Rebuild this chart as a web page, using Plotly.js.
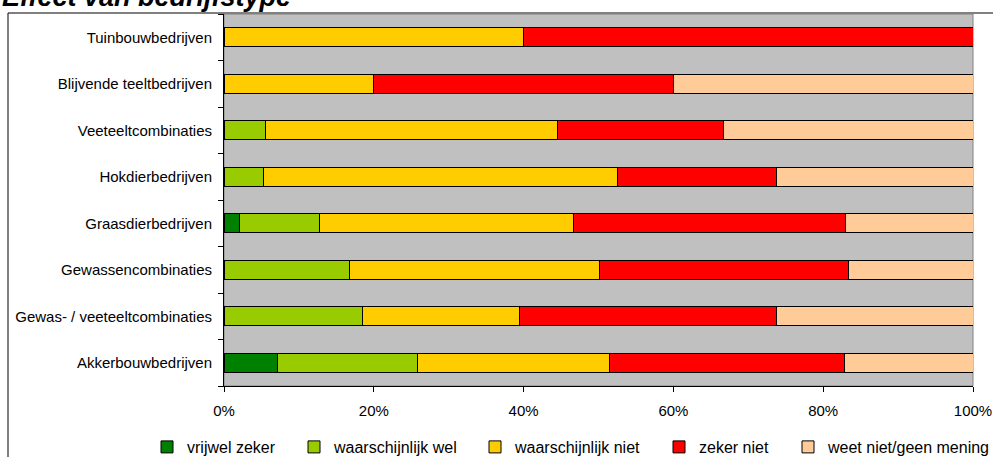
<!DOCTYPE html>
<html>
<head>
<meta charset="utf-8">
<script src="https://cdn.plot.ly/plotly-3.0.1.min.js"></script>
<style>html,body{margin:0;padding:0;background:#fff;}#chart{width:993px;height:457px;}</style>
</head>
<body>
<div id="chart"></div>
<script>
// Categories (bottom to top)
const categories = [
  "Akkerbouwbedrijven",
  "Gewas- / veeteeltcombinaties",
  "Gewassencombinaties",
  "Graasdierbedrijven",
  "Hokdierbedrijven",
  "Veeteeltcombinaties",
  "Blijvende teeltbedrijven",
  "Tuinbouwbedrijven"
];
// Series values (percent)
const vrijwelZeker       = [7.2, null, null, 2.1, null, null, null, null];
const waarschijnlijkWel  = [18.6, 18.5, 16.7, 10.7, 5.3, 5.6, null, null];
const waarschijnlijkNiet = [25.7, 21.0, 33.4, 33.9, 47.3, 38.9, 20.0, 40.0];
const zekerNiet          = [31.4, 34.3, 33.3, 36.3, 21.1, 22.2, 40.0, 60.0];
const weetNiet           = [17.1, 26.2, 16.6, 17.0, 26.3, 33.3, 40.0, null];

const seriesNames = ["vrijwel zeker", "waarschijnlijk wel", "waarschijnlijk niet", "zeker niet", "weet niet/geen mening"];
const seriesValues = [vrijwelZeker, waarschijnlijkWel, waarschijnlijkNiet, zekerNiet, weetNiet];
const seriesColors = ["#008000", "#99CC00", "#FFCC00", "#FF0000", "#FFCC99"];

// X tick labels
const xTickVals = [0, 20, 40, 60, 80, 100];
const xTickText = ["0%", "20%", "40%", "60%", "80%", "100%"];

const font = "Arial, 'Liberation Sans', sans-serif";

// pixel helpers for paper coordinates
const L = 224, R = 20, T = 14, B = 71, W = 993, H = 457;
const pw = W - L - R, ph = H - T - B;
const px = v => (v - L) / pw;
const py = v => (H - B - v) / ph;

// legend entry left positions (pixels), one legend box per series
const legendLeft = [147, 294, 475, 659, 788];
const legendIds = ["legend", "legend2", "legend3", "legend4", "legend5"];

const traces = seriesNames.map((name, i) => ({
  type: "bar",
  orientation: "h",
  name: name,
  legend: legendIds[i],
  y: categories,
  x: seriesValues[i],
  marker: {color: seriesColors[i], line: {color: "#000000", width: 1}},
  hoverinfo: "skip"
}));

const layout = {
  width: W, height: H,
  margin: {l: L, r: R, t: T, b: B, pad: 0, autoexpand: false},
  paper_bgcolor: "#FFFFFF",
  plot_bgcolor: "#C0C0C0",
  barmode: "stack",
  bargap: 0.585,
  showlegend: true,
  font: {family: font, size: 15, color: "#000000"},
  xaxis: {
    range: [0, 100],
    tickmode: "array",
    tickvals: xTickVals,
    ticktext: xTickText,
    showgrid: false,
    zeroline: false,
    showline: true,
    linecolor: "#000000",
    linewidth: 1,
    ticks: "outside",
    ticklen: 5,
    tickcolor: "#000000",
    ticklabelstandoff: 6,
    tickfont: {family: font, size: 15, color: "#000000"},
    fixedrange: true
  },
  yaxis: {
    type: "category",
    categoryorder: "array",
    categoryarray: categories,
    showgrid: false,
    zeroline: false,
    showline: true,
    linecolor: "#000000",
    linewidth: 1,
    ticks: "outside",
    ticklen: 5,
    tickcolor: "#000000",
    tickson: "boundaries",
    ticklabelstandoff: 8,
    tickfont: {family: font, size: 15, color: "#000000"},
    fixedrange: true
  },
  shapes: [
    // outer chart border
    {type: "rect", xref: "paper", yref: "paper", x0: px(8), x1: px(1005), y0: py(470), y1: py(13),
     line: {color: "#000000", width: 1}, fillcolor: "rgba(0,0,0,0)", layer: "below"},
    // plot area border
    {type: "rect", xref: "paper", yref: "paper", x0: 0, x1: 1, y0: 0, y1: 1,
     line: {color: "#808080", width: 1}, fillcolor: "rgba(0,0,0,0)", layer: "below"}
  ],
  annotations: [
    {text: "<b><i>Effect van bedrijfstype</i></b>", xref: "paper", yref: "paper",
     x: px(1), xanchor: "left", y: py(13), yanchor: "bottom", showarrow: false,
     font: {family: font, size: 27, color: "#000000"}, borderpad: 0}
  ]
};

legendIds.forEach((id, i) => {
  layout[id] = {
    orientation: "h",
    x: px(legendLeft[i]),
    xanchor: "left",
    y: py(447),
    yanchor: "middle",
    font: {family: font, size: 16, color: "#000000"},
    bgcolor: "rgba(0,0,0,0)",
    borderwidth: 0
  };
});

Plotly.newPlot("chart", traces, layout, {displayModeBar: false, staticPlot: true});
</script>
</body>
</html>
